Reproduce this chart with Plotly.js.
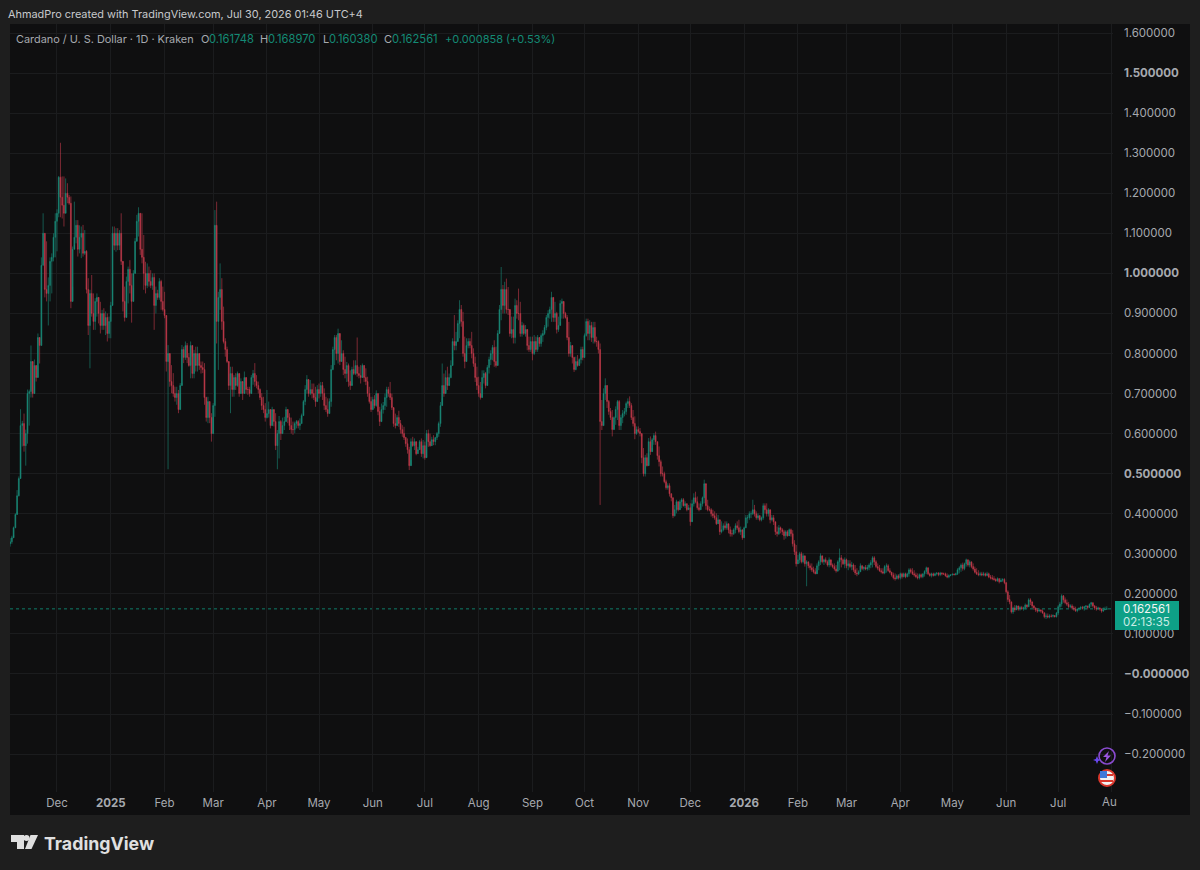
<!DOCTYPE html>
<html><head><meta charset="utf-8">
<script src="https://cdn.plot.ly/plotly-3.0.1.min.js"></script>
<style>html,body{margin:0;padding:0;background:#1e1e1e}#chart{width:1200px;height:870px}</style>
</head><body><div id="chart"></div>
<script>
const firstDay='2024-11-04';
const highs=[
.339,.345,.368,.401,.459,.493,.661,.632,.650,.610,
.710,.710,.820,.775,.785,.760,.850,.825,1.040,1.150,
1.100,1.080,.990,1.040,1.050,1.100,1.150,1.160,1.243,1.326,
1.242,1.242,1.237,1.225,1.196,1.192,1.067,1.179,1.133,1.133,
1.120,1.117,1.121,1.108,1.058,.988,.959,.996,.950,.938,
.950,.938,.929,.909,.913,.905,.900,.892,.929,1.117,
1.117,1.113,1.113,1.108,1.150,1.025,.967,.992,1.017,1.033,
1.000,1.008,1.088,1.146,1.165,1.150,1.150,1.096,1.029,1.025,
1.017,1.008,1.000,1.000,.967,.959,.988,.984,.967,.954,
.892,.821,.776,.771,.751,.717,.717,.709,.726,.821,
.817,.830,.826,.801,.830,.792,.809,.817,.817,.784,
.780,.780,.776,.692,.692,.680,.651,.676,1.158,1.179,
.954,1.025,.988,.917,.838,.817,.776,.767,.767,.746,
.751,.755,.742,.738,.726,.755,.720,.717,.717,.746,
.759,.776,.746,.730,.713,.701,.692,.676,.709,.680,
.659,.667,.655,.651,.609,.644,.634,.640,.642,.667,
.659,.651,.640,.630,.630,.634,.634,
.638,.650,.684,.721,.746,.734,.734,.725,.725,.717,
.721,.725,.729,.729,.713,.692,.688,.688,.771,.817,
.846,.846,.862,.842,.833,.808,.792,.779,.775,.758,
.767,.783,.783,.840,.767,.771,.775,.771,.763,.742,
.717,.692,.692,.696,.708,.700,.667,.675,.679,.700,
.717,.717,.729,.700,.659,.650,.646,.657,.634,.621,
.617,.592,.588,.567,.588,.592,.588,.571,.567,.584,
.588,.584,.580,.609,.610,.600,.592,.596,.592,.604,
.630,.679,.775,.750,.758,.767,.750,.783,.838,.896,
.854,.883,.933,.921,.904,.842,.838,.838,.838,.854,
.813,.792,.767,.742,.729,.758,.758,.754,.771,.792,
.808,.821,.833,.817,.858,.921,1.016,.971,.979,.987,
.966,.896,.892,.892,.937,.933,.962,.929,.879,.875,
.871,.854,.842,.842,.842,.846,.842,.846,.838,.850,
.858,.871,.896,.908,.917,.954,.933,.929,.904,.892,
.933,.937,.917,.904,.896,.879,.829,.813,.792,.792,
.796,.788,.817,.817,.850,.887,.887,.883,.879,.879,
.879,.842,.833,
.825,.684,.713,.738,.718,.684,.664,.659,.643,.668,
.684,.684,.647,.659,.664,.680,.688,.693,.676,.659,
.643,.618,.618,.614,.593,.564,.547,.551,.589,.593,
.589,.601,.605,.580,.568,.535,.518,.505,.485,.476,
.476,.451,.439,.422,.435,.431,.435,.439,.439,.431,
.426,.422,.426,.435,.451,.455,.443,.426,.431,.443,
.485,.472,.435,.418,.414,.410,.406,.401,.397,.381,
.381,.376,.381,.381,.372,.368,.360,.364,.376,.381,
.385,.368,.360,.368,.397,.397,.406,.406,.435,.422,
.406,.401,.397,.393,.426,.426,.426,.414,.401,.397,
.397,.372,.368,.372,.368,.364,.360,
.359,.359,.363,.363,.359,.334,.322,.297,.305,.305,
.301,.284,.284,.280,.276,.276,.268,.264,.276,.284,
.301,.288,.288,.291,.284,.291,.280,.276,.276,.272,
.284,.313,.297,.288,.291,.288,.284,.284,.280,.276,
.272,.264,.259,.276,.272,.269,.272,.272,.276,.284,
.294,.294,.284,.276,.272,.264,.264,.272,.276,.274,
.264,.255,.253,.251,.249,.249,.253,.253,.253,.253,
.253,.264,.264,.264,.259,.253,.251,.251,.251,.251,
.259,.268,.266,.253,.253,.253,.253,.254,.254,.255,
.254,.253,.253,.251,.249,.249,.251,.251,.253,.264,
.269,.276,.278,.278,.288,.284,.284,.280,.276,.268,
.264,.259,.255,.255,.255,.253,.255,.253,.247,.247,
.244,.239,.241,.239,.239,.239,.239,.226,.209,.197,
.180,.168,.172,.172,.168,.170,.170,.168,.176,.174,
.189,.189,.178,.172,.166,.164,.164,.161,.161,.153,
.151,.151,.149,.149,.149,.147,.155,.172,.180,.199,
.197,.191,.186,.180,.174,.174,.170,.168,.164,.166,
.170,.170,.170,.172,.170,.176,.180,.178,.172,.170,
.168,.166,.164,.166,.168,.16897];
const lows=[
.318,.325,.347,.364,.405,.443,.490,.568,.555,.520,
.575,.620,.690,.690,.720,.730,.770,.775,.820,1.020,
.940,.930,.870,.930,.950,1.030,1.040,1.055,1.140,1.140,
1.137,1.117,1.158,1.175,1.171,.913,.967,1.071,1.075,1.042,
1.050,1.038,1.042,1.046,.950,.846,.763,.892,.859,.859,
.892,.875,.850,.859,.859,.846,.830,.838,.838,.925,
1.058,1.054,1.058,1.058,1.021,.905,.880,.909,.925,.950,
.877,.963,1.008,1.088,1.092,1.046,1.025,.959,.950,.963,
.967,.963,.959,.859,.900,.934,.934,.909,.905,.888,
.755,.511,.717,.701,.692,.680,.672,.651,.701,.726,
.776,.784,.776,.767,.738,.738,.738,.755,.755,.759,
.750,.751,.672,.630,.626,.626,.580,.642,.642,.825,
.759,.909,.859,.825,.792,.776,.709,.651,.692,.692,
.709,.717,.692,.701,.684,.705,.700,.697,.692,.709,
.722,.717,.713,.700,.684,.659,.651,.630,.638,.640,
.613,.634,.618,.559,.511,.538,.584,.600,.609,.634,
.626,.609,.600,.597,.601,.613,.613,
.609,.625,.646,.671,.700,.692,.696,.688,.684,.667,
.688,.688,.692,.684,.659,.654,.642,.650,.667,.758,
.771,.783,.775,.771,.783,.746,.738,.729,.717,.709,
.725,.746,.746,.742,.738,.725,.742,.729,.721,.692,
.675,.654,.675,.663,.667,.646,.619,.646,.650,.659,
.667,.692,.684,.659,.617,.613,.625,.617,.600,.592,
.584,.567,.550,.509,.534,.567,.559,.546,.550,.559,
.542,.538,.535,.559,.567,.567,.571,.571,.571,.584,
.592,.617,.688,.692,.717,.709,.725,.738,.792,.808,
.808,.838,.838,.867,.792,.763,.813,.813,.813,.788,
.767,.729,.709,.692,.685,.717,.725,.713,.729,.750,
.771,.783,.767,.765,.808,.854,.883,.900,.900,.900,
.896,.842,.838,.825,.825,.887,.883,.842,.842,.846,
.842,.808,.804,.804,.783,.796,.804,.804,.817,.817,
.829,.846,.858,.867,.887,.879,.879,.879,.850,.854,
.879,.887,.887,.887,.833,.792,.792,.775,.754,.758,
.767,.771,.775,.783,.813,.842,.833,.833,.829,.825,
.825,.817,.800,
.422,.609,.668,.684,.664,.647,.634,.593,.622,.622,
.634,.609,.609,.626,.643,.647,.664,.664,.634,.618,
.586,.597,.601,.593,.526,.493,.493,.518,.551,.547,
.564,.572,.572,.535,.518,.493,.493,.476,.460,.460,
.443,.431,.389,.393,.401,.406,.414,.414,.418,.414,
.406,.410,.370,.385,.418,.426,.410,.406,.410,.418,
.426,.410,.406,.406,.393,.389,.385,.372,.376,.347,
.351,.356,.360,.360,.351,.343,.343,.347,.351,.360,
.351,.347,.335,.347,.364,.376,.385,.389,.397,.393,
.385,.385,.381,.381,.385,.401,.393,.393,.376,.381,
.372,.347,.343,.347,.351,.347,.335,
.338,.343,.347,.343,.318,.297,.268,.276,.276,.276,
.276,.268,.219,.264,.259,.255,.251,.249,.259,.259,
.272,.276,.272,.276,.268,.266,.268,.264,.258,.253,
.255,.259,.266,.272,.264,.264,.259,.264,.259,.255,
.247,.244,.247,.255,.259,.258,.259,.258,.259,.264,
.266,.272,.264,.259,.255,.251,.249,.249,.253,.255,
.251,.243,.236,.233,.236,.236,.236,.238,.241,.239,
.241,.243,.251,.247,.243,.239,.236,.236,.239,.239,
.243,.249,.247,.243,.241,.243,.244,.246,.244,.244,
.246,.247,.243,.239,.239,.244,.246,.246,.246,.247,
.251,.255,.258,.259,.268,.268,.266,.264,.258,.251,
.247,.244,.244,.244,.244,.243,.244,.239,.236,.234,
.233,.230,.230,.226,.230,.230,.224,.201,.180,.174,
.151,.150,.155,.160,.158,.158,.160,.158,.161,.164,
.168,.172,.164,.160,.155,.153,.155,.153,.150,.139,
.137,.139,.139,.141,.141,.141,.141,.147,.160,.168,
.178,.174,.170,.164,.164,.161,.158,.155,.154,.158,
.160,.161,.158,.161,.161,.164,.168,.166,.160,.158,
.160,.158,.153,.155,.160,.16038];
const closes=[
.330,.340,.365,.398,.445,.488,.620,.625,.570,.600,
.700,.705,.780,.700,.770,.740,.840,.820,1.020,1.100,
.960,.950,.970,1.030,1.040,1.090,1.130,1.150,1.240,1.190,
1.170,1.150,1.200,1.190,1.175,.930,1.060,1.090,1.120,1.060,
1.090,1.100,1.050,1.055,.960,.870,.950,.900,.880,.930,
.940,.900,.870,.900,.870,.890,.850,.880,.920,1.100,
1.070,1.100,1.070,1.100,1.030,.930,.890,.980,1.010,.970,
.930,1.000,1.080,1.130,1.150,1.060,1.040,1.000,.970,1.000,
.980,.970,.990,.920,.950,.940,.980,.930,.910,.895,
.780,.800,.730,.720,.700,.690,.700,.660,.720,.810,
.790,.820,.790,.770,.820,.750,.800,.770,.800,.770,
.765,.760,.690,.640,.680,.640,.600,.670,1.120,.880,
.940,.960,.880,.830,.810,.780,.720,.750,.710,.740,
.720,.750,.700,.730,.700,.740,.710,.710,.700,.740,
.750,.730,.720,.710,.690,.670,.660,.640,.650,.660,
.620,.660,.630,.570,.600,.630,.600,.620,.630,.660,
.640,.620,.610,.610,.625,.630,.620,
.625,.645,.680,.710,.735,.700,.710,.700,.690,.680,
.710,.700,.720,.700,.670,.660,.650,.680,.760,.810,
.840,.800,.850,.780,.800,.760,.750,.770,.730,.720,
.760,.750,.770,.750,.745,.740,.770,.740,.730,.700,
.680,.660,.685,.670,.700,.655,.630,.660,.670,.690,
.710,.700,.690,.665,.625,.620,.640,.625,.610,.600,
.590,.575,.560,.520,.580,.570,.580,.550,.560,.580,
.550,.570,.540,.600,.580,.570,.585,.580,.590,.600,
.625,.670,.720,.700,.740,.720,.740,.770,.830,.820,
.830,.875,.910,.880,.800,.780,.820,.830,.820,.800,
.775,.740,.720,.700,.690,.740,.750,.720,.765,.785,
.800,.815,.780,.770,.850,.910,.960,.920,.960,.910,
.910,.850,.860,.840,.920,.900,.900,.850,.870,.850,
.860,.820,.810,.830,.800,.830,.810,.840,.825,.845,
.850,.865,.890,.900,.910,.940,.890,.900,.860,.870,
.925,.930,.900,.890,.840,.800,.820,.790,.760,.780,
.770,.785,.810,.790,.845,.880,.850,.870,.840,.865,
.830,.830,.810,
.630,.620,.700,.720,.680,.655,.640,.610,.640,.660,
.680,.620,.640,.650,.655,.675,.680,.670,.640,.625,
.600,.610,.605,.600,.540,.500,.540,.520,.580,.555,
.585,.595,.580,.545,.530,.500,.500,.480,.465,.470,
.450,.440,.395,.410,.430,.410,.430,.435,.420,.425,
.410,.415,.380,.425,.440,.430,.415,.410,.425,.440,
.475,.420,.410,.410,.400,.395,.390,.375,.385,.355,
.360,.370,.365,.375,.360,.350,.350,.360,.370,.365,
.355,.360,.340,.365,.390,.390,.400,.400,.410,.400,
.390,.395,.385,.390,.420,.410,.400,.410,.385,.390,
.380,.355,.350,.365,.360,.355,.345,
.355,.345,.360,.350,.325,.305,.275,.285,.300,.280,
.295,.275,.280,.270,.265,.260,.255,.250,.270,.280,
.295,.280,.285,.280,.272,.285,.272,.268,.262,.257,
.280,.290,.285,.275,.285,.270,.275,.268,.272,.260,
.252,.250,.255,.270,.263,.266,.262,.266,.272,.278,
.290,.280,.268,.264,.258,.255,.252,.268,.270,.258,
.254,.247,.240,.238,.245,.240,.250,.243,.250,.243,
.250,.260,.255,.250,.247,.243,.240,.248,.243,.250,
.256,.265,.250,.246,.250,.246,.250,.252,.248,.252,
.250,.250,.245,.242,.246,.247,.249,.248,.250,.260,
.265,.272,.263,.275,.285,.272,.280,.268,.262,.254,
.250,.248,.250,.247,.250,.246,.250,.242,.240,.238,
.236,.233,.238,.230,.234,.236,.228,.205,.186,.180,
.155,.165,.160,.170,.162,.166,.163,.165,.172,.168,
.185,.180,.170,.165,.160,.157,.160,.157,.153,.143,
.145,.142,.145,.144,.146,.143,.152,.168,.175,.195,
.185,.178,.174,.168,.170,.165,.162,.158,.162,.164,
.166,.164,.168,.170,.166,.174,.178,.170,.165,.163,
.165,.162,.157,.160,.1617,.162561];
const monthTicks=['2024-12-01','2025-01-01','2025-02-01','2025-03-01','2025-04-01','2025-05-01','2025-06-01','2025-07-01','2025-08-01','2025-09-01','2025-10-01','2025-11-01','2025-12-01','2026-01-01','2026-02-01','2026-03-01','2026-04-01','2026-05-01','2026-06-01','2026-07-01','2026-08-01'];
const monthLabels=['Dec','<b>2025</b>','Feb','Mar','Apr','May','Jun','Jul','Aug','Sep','Oct','Nov','Dec','<b>2026</b>','Feb','Mar','Apr','May','Jun','Jul',''];
const priceTicks=[1.6,1.5,1.4,1.3,1.2,1.1,1.0,0.9,0.8,0.7,0.6,0.5,0.4,0.3,0.2,0.1,0,-0.1,-0.2];
const priceLabels=['1.600000','<b>1.500000</b>','1.400000','1.300000','1.200000','1.100000','<b>1.000000</b>','0.900000','0.800000','0.700000','0.600000','<b>0.500000</b>','0.400000','0.300000','0.200000','0.100000','<b>−0.000000</b>','−0.100000','−0.200000'];
const lastPrice=0.162561, countdown='02:13:35';

const dates=highs.map((_,i)=>{const d=new Date(firstDay+'T00:00:00Z');d.setUTCDate(d.getUTCDate()+i);return d.toISOString().slice(0,10)});
const opens=closes.map((c,i)=>i?closes[i-1]:.325);

const L=10,R=1113,T=24,B=792;
const X=p=>(p-L)/(R-L), Y=p=>(B-p)/(B-T);
const FONT='Inter, "Liberation Sans", sans-serif';
const GRN='#1a8b79',RED='#c43a4c',TXT='#a6a9af',VAL='#148a75';
const pathOf=pts=>'M'+pts.map(q=>X(q[0])+','+Y(q[1])).join('L')+'Z';
const pshape=(x0,y0,x1,y1,fill,extra)=>Object.assign({type:'rect',xref:'paper',yref:'paper',x0:X(x0),x1:X(x1),y0:Y(y1),y1:Y(y0),fillcolor:fill,line:{width:0},layer:'below'},extra||{});
const circle=(cx,cy,r,fill,stroke,w)=>({type:'circle',xref:'paper',yref:'paper',x0:X(cx-r),x1:X(cx+r),y0:Y(cy+r),y1:Y(cy-r),fillcolor:fill,line:{color:stroke||fill,width:w||0},layer:'above'});
const poly=(pts,fill)=>({type:'path',xref:'paper',yref:'paper',path:pathOf(pts),fillcolor:fill,line:{width:0},layer:'above'});
const txt=(x,y,text,color,size,extra)=>Object.assign({xref:'paper',yref:'paper',x:X(x),y:Y(y),text,showarrow:false,xanchor:'left',yanchor:'middle',font:{family:FONT,size:size||11,color},borderpad:0,borderwidth:0},extra||{});

const shapes=[
 pshape(10,24,1190,815,'#0f0f10'),
 {type:'line',xref:'paper',yref:'y',x0:0,x1:1,y0:lastPrice,y1:lastPrice,line:{color:'#0f7d6b',width:1,dash:'dot'},layer:'below'},
 pshape(1115,601,1179,630,'#0ea087',{layer:'above'}),
 poly([[11,835],[24,835],[24,849],[17,849],[17,842],[11,842]],'#e0e0e0'),
 circle(26.5,838,3,'#e0e0e0'),
 poly([[30.5,835],[38,835],[31.5,849],[25,849]],'#e0e0e0'),
 circle(1107,756,8,'rgba(0,0,0,0)','#8a4bd0',1.6),
 poly([[1109,751],[1103,757],[1106.5,757],[1105,762],[1111,755.5],[1107.5,755.5]],'#9a55e0'),
 poly([[1097,756],[1098.2,759],[1101,760],[1098.2,761],[1097,764],[1095.8,761],[1093,760],[1095.8,759]],'#6a48f0'),
 circle(1107,778,8,'#f2f2f2','#d9362b',2),
 pshape(1100,771,1107,778,'#3f78d8',{layer:'above'}),
 pshape(1107,774,1113,776,'#d9362b',{layer:'above'}),
 pshape(1100,780,1113,782,'#d9362b',{layer:'above'})
];
const annotations=[
 txt(8,14,'AhmadPro created with TradingView.com, Jul 30, 2026 01:46 UTC+4','#c8cacd',10.9),
 txt(16,39,'Cardano / U. S. Dollar · 1D · Kraken',TXT,10.9),
 txt(201,39,'O',TXT,11), txt(209,39,'0.161748',VAL,11.2),
 txt(260,39,'H',TXT,11), txt(268,39,'0.168970',VAL,11.2),
 txt(323,39,'L',TXT,11), txt(329,39,'0.160380',VAL,11.2),
 txt(384,39,'C',TXT,11), txt(392,39,'0.162561',VAL,11.2),
 txt(445,39,'+0.000858 (+0.53%)',VAL,11),
 txt(1123,609,lastPrice.toFixed(6),'#f2f5f4',11.5),
 txt(1123,622,countdown,'#c9ece5',11.5),
 txt(1109,802,'Au',TXT,11.5,{xanchor:'center'}),
 txt(44,843,'<b>TradingView</b>','#e0e0e0',17.8)
];
Plotly.newPlot('chart',[{
 type:'candlestick',x:dates,open:opens,high:highs,low:lows,close:closes,
 increasing:{line:{color:GRN,width:0.6},fillcolor:GRN},
 decreasing:{line:{color:RED,width:0.6},fillcolor:RED},
 whiskerwidth:0,hoverinfo:'skip'
}],{
 width:1200,height:870,margin:{l:L,r:1200-R,t:T,b:870-B,pad:0},
 paper_bgcolor:'#1e1e1e',plot_bgcolor:'#0f0f10',showlegend:false,dragmode:false,
 font:{family:FONT,color:TXT,size:11.5},
 xaxis:{type:'date',range:['2024-11-03 22:00','2026-08-01 14:00'],tickmode:'array',tickvals:monthTicks,ticktext:monthLabels,
  showgrid:true,gridcolor:'#1b1c1e',gridwidth:1,zeroline:false,showline:false,ticks:'',tickangle:0,
  tickfont:{family:FONT,size:11.5,color:TXT},rangeslider:{visible:false},ticklabelstandoff:2},
 yaxis:{side:'right',range:[-0.2946,1.6225],tickmode:'array',tickvals:priceTicks,ticktext:priceLabels,
  showgrid:true,gridcolor:'#1b1c1e',gridwidth:1,zeroline:false,showline:false,ticks:'',
  tickfont:{family:FONT,size:11.5,color:TXT},ticklabelstandoff:10},
 shapes,annotations
},{displayModeBar:false,staticPlot:true});
</script></body></html>
